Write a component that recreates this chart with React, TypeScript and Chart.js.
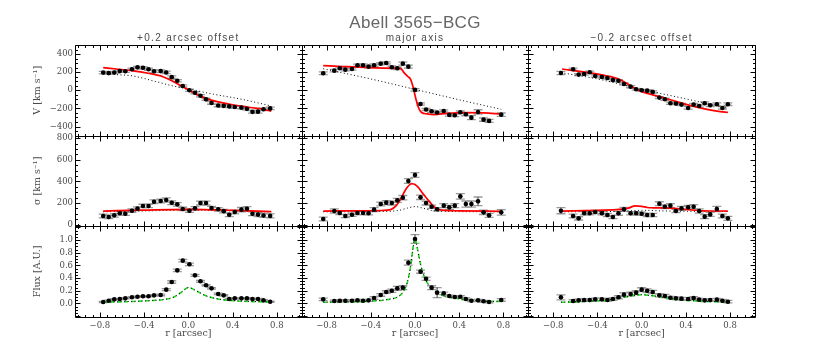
import React, { useEffect, useRef } from 'react';
import { Chart, registerables } from 'chart.js';

Chart.register(...registerables);

const W = 830;
const H = 347;

// ---- text ----
const mainTitle = 'Abell 3565\u2212BCG';
const columnTitles = ['+0.2 arcsec offset', 'major axis', '\u22120.2 arcsec offset'];
const xTitle = 'r [arcsec]';
const velTitle = 'V [km s\u207B\u00B9]';
const sigTitle = '\u03C3 [km s\u207B\u00B9]';
const fluxTitle = 'Flux [A.U.]';

// ---- tick labels ----
const rTicks = [-0.8, -0.4, 0, 0.4, 0.8];
const velTicks = [-400, -200, 0, 200, 400];
const sigTicks = [0, 200, 400, 600, 800];
const fluxTicks = [0, 0.2, 0.4, 0.6, 0.8, 1.0];

// ---- +0.2 arcsec offset ----
const rPlus = [-0.77, -0.72, -0.67, -0.62, -0.57, -0.51, -0.46, -0.41, -0.36, -0.31, -0.25, -0.2, -0.15, -0.1, -0.05, 0.01, 0.06, 0.11, 0.16, 0.21, 0.27, 0.32, 0.37, 0.42, 0.48, 0.53, 0.58, 0.63, 0.68, 0.74];
const velPlus = [195, 190, 197, 212, 210, 232, 253, 248, 232, 210, 212, 197, 145, 105, 48, 0, -28, -60, -100, -140, -168, -172, -178, -185, -192, -205, -238, -236, -210, -200];
const velPlusErr = [14, 12, 12, 12, 12, 12, 12, 14, 12, 14, 14, 14, 14, 12, 12, 12, 12, 12, 12, 14, 14, 14, 14, 14, 14, 14, 14, 16, 14, 14];
const sigPlus = [79, 70, 85, 104, 100, 128, 147, 172, 172, 211, 218, 227, 202, 187, 144, 128, 150, 199, 199, 153, 141, 124, 90, 116, 138, 146, 100, 92, 84, 80];
const sigPlusErr = [18, 16, 16, 16, 16, 16, 16, 16, 16, 18, 18, 20, 18, 16, 16, 16, 16, 18, 18, 16, 16, 16, 16, 18, 20, 20, 18, 18, 18, 18];
const fluxPlus = [0.022, 0.043, 0.064, 0.07, 0.08, 0.096, 0.106, 0.112, 0.112, 0.127, 0.133, 0.217, 0.338, 0.522, 0.675, 0.617, 0.443, 0.349, 0.286, 0.238, 0.149, 0.127, 0.07, 0.08, 0.08, 0.08, 0.07, 0.07, 0.048, 0.027];
const fluxPlusErr = [0.01, 0.01, 0.01, 0.01, 0.01, 0.01, 0.01, 0.01, 0.01, 0.012, 0.012, 0.015, 0.02, 0.02, 0.02, 0.02, 0.015, 0.015, 0.012, 0.012, 0.012, 0.01, 0.01, 0.01, 0.01, 0.01, 0.01, 0.01, 0.01, 0.01];

const rVelModelPlus = [-0.77, -0.65, -0.5, -0.35, -0.23, -0.14, -0.06, 0, 0.08, 0.17, 0.26, 0.4, 0.56, 0.68, 0.75];
const velModelPlus = [250, 235, 215, 185, 150, 100, 45, 5, -50, -95, -125, -160, -190, -210, -230];
const rVelDotPlus = [-0.77, -0.71, -0.5, -0.29, -0.14, 0, 0.23, 0.47, 0.75];
const velDotPlus = [195, 180, 158, 95, 48, 15, -44, -96, -173];
const rSigModelPlus = [-0.77, -0.4, 0, 0.4, 0.75];
const sigModelPlus = [125, 134, 141, 132, 120];
const sigDotPlus = [118, 126, 134, 126, 116];
const rFluxModelPlus = [-0.77, -0.5, -0.3, -0.2, -0.13, -0.06, 0, 0.07, 0.16, 0.28, 0.4, 0.55, 0.75];
const fluxModelPlus = [0.017, 0.03, 0.048, 0.065, 0.1, 0.18, 0.25, 0.2, 0.12, 0.065, 0.043, 0.03, 0.022];
const fluxDotPlus = [0.02, 0.032, 0.05, 0.067, 0.1, 0.18, 0.25, 0.2, 0.12, 0.067, 0.045, 0.032, 0.024];

// ---- major axis ----
const rMajor = [-0.83, -0.73, -0.68, -0.63, -0.57, -0.52, -0.47, -0.42, -0.37, -0.31, -0.26, -0.21, -0.16, -0.11, -0.06, 0.0, 0.05, 0.1, 0.15, 0.2, 0.26, 0.31, 0.36, 0.41, 0.46, 0.51, 0.57, 0.62, 0.67, 0.78];
const velMajor = [188, 217, 243, 228, 235, 276, 276, 261, 276, 294, 302, 254, 243, 294, 261, 4, -151, -213, -232, -246, -228, -272, -276, -243, -265, -302, -239, -324, -338, -269];
const velMajorErr = [16, 14, 12, 14, 12, 12, 14, 12, 14, 12, 12, 14, 14, 16, 16, 14, 12, 12, 12, 12, 12, 14, 14, 14, 16, 22, 24, 18, 16, 18];
const sigMajor = [51, 125, 107, 79, 91, 107, 107, 104, 138, 190, 203, 199, 224, 249, 403, 459, 252, 199, 165, 141, 175, 159, 175, 261, 190, 190, 215, 113, 85, 113];
const sigMajorErr = [18, 20, 15, 15, 15, 15, 15, 15, 18, 18, 18, 18, 18, 20, 22, 22, 20, 18, 15, 15, 18, 18, 18, 25, 28, 28, 40, 20, 18, 25];
const fluxMajor = [0.064, 0.038, 0.043, 0.043, 0.043, 0.048, 0.043, 0.048, 0.085, 0.133, 0.18, 0.2, 0.238, 0.249, 0.643, 1.017, 0.501, 0.39, 0.249, 0.17, 0.159, 0.117, 0.101, 0.106, 0.07, 0.043, 0.048, 0.033, 0.022, 0.054];
const fluxMajorErr = [0.02, 0.015, 0.015, 0.015, 0.015, 0.015, 0.015, 0.015, 0.02, 0.02, 0.02, 0.025, 0.03, 0.03, 0.04, 0.07, 0.025, 0.025, 0.03, 0.08, 0.02, 0.015, 0.015, 0.015, 0.015, 0.015, 0.015, 0.015, 0.015, 0.02];

const rVelModelMajor = [-0.83, -0.65, -0.45, -0.25, -0.13, -0.1, -0.065, -0.04, -0.015, 0.01, 0.04, 0.06, 0.11, 0.17, 0.29, 0.47, 0.62, 0.78];
const velModelMajor = [272, 262, 252, 245, 242, 195, 152, 120, 25, -105, -215, -245, -261, -268, -254, -246, -250, -262];
const rVelDotMajor = [-0.83, -0.4, 0, 0.4, 0.78];
const velDotMajor = [238, 125, 10, -105, -210];
const rSigModelMajor = [-0.83, -0.5, -0.3, -0.22, -0.17, -0.13, -0.1, -0.07, -0.03, 0, 0.03, 0.07, 0.13, 0.19, 0.25, 0.4, 0.78];
const sigModelMajor = [125, 127, 130, 138, 175, 235, 295, 345, 378, 372, 344, 289, 212, 150, 133, 127, 122];
const rSigDotMajor = [-0.83, -0.3, -0.15, -0.07, 0, 0.07, 0.15, 0.3, 0.78];
const sigDotMajor = [118, 121, 130, 152, 166, 152, 130, 121, 118];
const rFluxModelMajor = [-0.83, -0.6, -0.4, -0.25, -0.15, -0.1, -0.07, -0.04, -0.02, 0, 0.02, 0.05, 0.08, 0.12, 0.17, 0.25, 0.35, 0.5, 0.65, 0.78];
const fluxModelMajor = [0.017, 0.022, 0.035, 0.06, 0.11, 0.2, 0.33, 0.58, 0.85, 1.03, 0.88, 0.62, 0.44, 0.3, 0.2, 0.125, 0.085, 0.05, 0.03, 0.03];
const fluxDotMajor = [0.02, 0.025, 0.037, 0.062, 0.11, 0.2, 0.33, 0.58, 0.85, 1.03, 0.88, 0.62, 0.44, 0.3, 0.2, 0.127, 0.087, 0.052, 0.032, 0.032];

// ---- -0.2 arcsec offset ----
const rMinus = [-0.73, -0.62, -0.57, -0.52, -0.47, -0.42, -0.36, -0.31, -0.26, -0.21, -0.16, -0.1, -0.05, 0.0, 0.05, 0.1, 0.16, 0.21, 0.26, 0.31, 0.36, 0.42, 0.47, 0.52, 0.57, 0.62, 0.68, 0.73, 0.78];
const velMinus = [191, 232, 173, 180, 199, 158, 147, 136, 114, 105, 70, 40, 11, 0, -4, -18, -81, -99, -143, -147, -158, -195, -158, -173, -143, -166, -154, -195, -154];
const velMinusErr = [18, 12, 12, 12, 12, 12, 12, 12, 12, 12, 12, 12, 10, 10, 10, 12, 12, 12, 12, 12, 12, 14, 14, 12, 14, 14, 16, 14, 14];
const sigMinus = [128, 79, 57, 104, 104, 116, 104, 88, 70, 104, 141, 104, 104, 100, 88, 88, 193, 165, 175, 125, 150, 159, 165, 125, 73, 94, 144, 79, 57];
const sigMinusErr = [28, 18, 15, 15, 15, 15, 15, 15, 15, 18, 18, 15, 15, 15, 15, 15, 18, 18, 18, 15, 18, 18, 20, 20, 18, 18, 25, 18, 18];
const fluxMinus = [0.096, 0.038, 0.048, 0.054, 0.054, 0.064, 0.064, 0.054, 0.07, 0.096, 0.138, 0.149, 0.17, 0.217, 0.2, 0.18, 0.127, 0.117, 0.09, 0.08, 0.075, 0.07, 0.085, 0.059, 0.048, 0.054, 0.059, 0.043, 0.027];
const fluxMinusErr = [0.04, 0.02, 0.02, 0.02, 0.02, 0.02, 0.02, 0.02, 0.02, 0.025, 0.03, 0.03, 0.03, 0.03, 0.03, 0.025, 0.025, 0.025, 0.02, 0.02, 0.02, 0.02, 0.02, 0.02, 0.02, 0.02, 0.02, 0.02, 0.02];

const rVelModelMinus = [-0.72, -0.5, -0.32, -0.2, -0.14, -0.08, 0, 0.1, 0.26, 0.41, 0.59, 0.71, 0.78];
const velModelMinus = [235, 198, 160, 120, 80, 35, -15, -50, -105, -158, -210, -235, -243];
const rVelDotMinus = [-0.73, -0.4, 0, 0.4, 0.78];
const velDotMinus = [195, 125, 11, -95, -199];
const rSigModelMinus = [-0.73, -0.4, -0.2, -0.12, -0.06, 0, 0.05, 0.1, 0.25, 0.4, 0.55, 0.78];
const sigModelMinus = [125, 132, 140, 152, 172, 168, 158, 155, 152, 140, 127, 125];
const rSigDotMinus = [-0.73, -0.2, 0, 0.2, 0.78];
const sigDotMinus = [118, 122, 132, 126, 120];
const rFluxModelMinus = [-0.73, -0.5, -0.3, -0.15, -0.05, 0, 0.05, 0.15, 0.3, 0.5, 0.78];
const fluxModelMinus = [0.017, 0.03, 0.054, 0.1, 0.13, 0.138, 0.13, 0.11, 0.064, 0.038, 0.017];
const fluxDotMinus = [0.02, 0.032, 0.056, 0.1, 0.13, 0.138, 0.13, 0.11, 0.066, 0.04, 0.02];

// ---- styling ----
const textColor = '#4a4a4a';
const titleColor = '#666';
const tickFont = { family: '"DejaVu Serif", serif', size: 8.5 };
const axisTitleFont = { family: '"DejaVu Serif", serif', size: 9.5 };
const colIds = ['xPlus', 'xMajor', 'xMinus'];
const rowDefs = [
  { id: 'yVel', minor: 50, per: 4 },
  { id: 'ySig', minor: 50, per: 4 },
  { id: 'yFlux', minor: 0.05, per: 4 },
];
const rMinor = 0.4 / 6;

const pts = (xs: number[], ys: number[]) => xs.map((x, i) => ({ x, y: ys[i] }));

const fmt = (dec: number) => (v: any) => {
  const n = Number(v);
  if (dec === 0) return String(Math.round(n)).replace('-', '\u2212');
  return n.toFixed(dec).replace('-', '\u2212');
};

const observed = (xid: string, yid: string, xs: number[], ys: number[], errs: number[]) => ({
  type: 'scatter',
  data: pts(xs, ys),
  errors: errs,
  xAxisID: xid,
  yAxisID: yid,
  showLine: false,
  pointRadius: 2.3,
  pointHoverRadius: 2.3,
  pointBackgroundColor: '#000',
  pointBorderWidth: 0,
  order: 0,
});

const modelLine = (xid: string, yid: string, xs: number[], ys: number[], kind: string) => {
  const base: any = {
    type: 'scatter',
    data: pts(xs, ys),
    xAxisID: xid,
    yAxisID: yid,
    showLine: true,
    pointRadius: 0,
    pointHoverRadius: 0,
    cubicInterpolationMode: 'monotone',
    fill: false,
  };
  if (kind === 'red') return { ...base, borderColor: '#ff0000', borderWidth: 1.7, order: 1 };
  if (kind === 'green') return { ...base, borderColor: '#22dd22', borderWidth: 1.6, borderDash: [4, 3], order: 3 };
  return { ...base, borderColor: '#000', borderWidth: 1, borderDash: [1, 2.5], order: 2 };
};

const errorBarPlugin = {
  id: 'errorBars',
  beforeDatasetsDraw(chart: any) {
    const ctx = chart.ctx;
    ctx.save();
    chart.data.datasets.forEach((ds: any) => {
      if (!ds.errors) return;
      const xs = chart.scales[ds.xAxisID];
      const ys = chart.scales[ds.yAxisID];
      ds.data.forEach((p: any, j: number) => {
        const e = ds.errors[j];
        const px = xs.getPixelForValue(p.x);
        const y1 = ys.getPixelForValue(p.y + e);
        const y2 = ys.getPixelForValue(p.y - e);
        ctx.strokeStyle = '#9a9a9a';
        ctx.lineWidth = 1.3;
        ctx.beginPath();
        ctx.moveTo(px - 4.5, y1); ctx.lineTo(px + 4.5, y1);
        ctx.moveTo(px - 4.5, y2); ctx.lineTo(px + 4.5, y2);
        ctx.stroke();
        ctx.strokeStyle = '#444';
        ctx.lineWidth = 1;
        ctx.beginPath();
        ctx.moveTo(px, y1); ctx.lineTo(px, y2);
        ctx.stroke();
      });
    });
    ctx.restore();
  },
};

const framePlugin = {
  id: 'frames',
  afterDatasetsDraw(chart: any) {
    const ctx = chart.ctx;
    ctx.save();
    ctx.strokeStyle = '#000';
    ctx.lineWidth = 1;
    for (const row of rowDefs) {
      const ys = chart.scales[row.id];
      for (const xid of colIds) {
        const xs = chart.scales[xid];
        const l = Math.round(xs.left) + 0.5;
        const r = Math.round(xs.right) + 0.5;
        const t = Math.round(ys.top) + 0.5;
        const b = Math.round(ys.bottom) + 0.5;
        ctx.beginPath();
        ctx.rect(l, t, r - l, b - t);
        ctx.stroke();
        ctx.beginPath();
        const k0 = Math.ceil(xs.min / rMinor - 1e-6);
        const k1 = Math.floor(xs.max / rMinor + 1e-6);
        for (let k = k0; k <= k1; k++) {
          const px = Math.round(xs.getPixelForValue(k * rMinor)) + 0.5;
          const len = k % 6 === 0 ? 5 : 2.5;
          ctx.moveTo(px, b); ctx.lineTo(px, b - len);
          ctx.moveTo(px, t); ctx.lineTo(px, t + len);
        }
        const j0 = Math.ceil(ys.min / row.minor - 1e-6);
        const j1 = Math.floor(ys.max / row.minor + 1e-6);
        for (let j = j0; j <= j1; j++) {
          const py = Math.round(ys.getPixelForValue(j * row.minor)) + 0.5;
          const len = j % row.per === 0 ? 5 : 2.5;
          ctx.moveTo(l, py); ctx.lineTo(l + len, py);
          ctx.moveTo(r, py); ctx.lineTo(r - len, py);
        }
        ctx.stroke();
      }
    }
    ctx.restore();
  },
  afterDraw(chart: any) {
    const ctx = chart.ctx;
    const top = chart.chartArea.top;
    ctx.save();
    ctx.fillStyle = titleColor;
    ctx.textAlign = 'center';
    ctx.textBaseline = 'alphabetic';
    const mid = chart.scales[colIds[1]];
    ctx.font = '17px "Liberation Sans", Arial, sans-serif';
    try { ctx.letterSpacing = '0.3px'; } catch (e) {}
    ctx.fillText(mainTitle, (mid.left + mid.right) / 2, top - 17.5);
    ctx.fillStyle = textColor;
    ctx.font = '10px "Liberation Sans", Arial, sans-serif';
    try { ctx.letterSpacing = '1.3px'; } catch (e) {}
    colIds.forEach((id, i) => {
      const s = chart.scales[id];
      ctx.fillText(columnTitles[i], (s.left + s.right) / 2, top - 4.5);
    });
    ctx.restore();
  },
};

const yAxis = (range: number[], ticks: number[], dec: number, title: string, weight: number) => ({
  type: 'linear',
  position: 'left',
  stack: 'rows',
  stackWeight: 1,
  weight,
  min: range[0],
  max: range[1],
  afterBuildTicks: (s: any) => { s.ticks = ticks.map((v) => ({ value: v })); },
  afterFit: (s: any) => { s.width = 75; },
  grid: { display: false, drawTicks: false },
  border: { display: false },
  ticks: { font: tickFont, color: textColor, padding: 2, autoSkip: false, callback: fmt(dec) },
  title: { display: true, text: title, font: axisTitleFont, color: textColor, padding: { top: 31.4, bottom: 0 } },
});

const xAxis = (weight: number) => ({
  type: 'linear',
  position: 'bottom',
  stack: 'cols',
  stackWeight: 1,
  weight,
  min: -1.025,
  max: 1.025,
  afterBuildTicks: (s: any) => { s.ticks = rTicks.map((v) => ({ value: v })); },
  afterFit: (s: any) => { s.height = 30.3; },
  grid: { display: false, drawTicks: false },
  border: { display: false },
  ticks: { font: tickFont, color: textColor, padding: 4, maxRotation: 0, autoSkip: false, callback: fmt(1) },
  title: { display: true, text: xTitle, font: axisTitleFont, color: textColor, padding: { top: 0, bottom: 7.4 } },
});

export default function App() {
  const ref = useRef<HTMLCanvasElement | null>(null);

  useEffect(() => {
    if (!ref.current) return;
    const [xP, xM, xN] = colIds;
    const datasets: any[] = [
      observed(xP, 'yVel', rPlus, velPlus, velPlusErr),
      observed(xP, 'ySig', rPlus, sigPlus, sigPlusErr),
      observed(xP, 'yFlux', rPlus, fluxPlus, fluxPlusErr),
      observed(xM, 'yVel', rMajor, velMajor, velMajorErr),
      observed(xM, 'ySig', rMajor, sigMajor, sigMajorErr),
      observed(xM, 'yFlux', rMajor, fluxMajor, fluxMajorErr),
      observed(xN, 'yVel', rMinus, velMinus, velMinusErr),
      observed(xN, 'ySig', rMinus, sigMinus, sigMinusErr),
      observed(xN, 'yFlux', rMinus, fluxMinus, fluxMinusErr),

      modelLine(xP, 'yVel', rVelModelPlus, velModelPlus, 'red'),
      modelLine(xP, 'yVel', rVelDotPlus, velDotPlus, 'dot'),
      modelLine(xP, 'ySig', rSigModelPlus, sigModelPlus, 'red'),
      modelLine(xP, 'ySig', rSigModelPlus, sigDotPlus, 'dot'),
      modelLine(xP, 'yFlux', rFluxModelPlus, fluxModelPlus, 'green'),
      modelLine(xP, 'yFlux', rFluxModelPlus, fluxDotPlus, 'dot'),

      modelLine(xM, 'yVel', rVelModelMajor, velModelMajor, 'red'),
      modelLine(xM, 'yVel', rVelDotMajor, velDotMajor, 'dot'),
      modelLine(xM, 'ySig', rSigModelMajor, sigModelMajor, 'red'),
      modelLine(xM, 'ySig', rSigDotMajor, sigDotMajor, 'dot'),
      modelLine(xM, 'yFlux', rFluxModelMajor, fluxModelMajor, 'green'),
      modelLine(xM, 'yFlux', rFluxModelMajor, fluxDotMajor, 'dot'),

      modelLine(xN, 'yVel', rVelModelMinus, velModelMinus, 'red'),
      modelLine(xN, 'yVel', rVelDotMinus, velDotMinus, 'dot'),
      modelLine(xN, 'ySig', rSigModelMinus, sigModelMinus, 'red'),
      modelLine(xN, 'ySig', rSigDotMinus, sigDotMinus, 'dot'),
      modelLine(xN, 'yFlux', rFluxModelMinus, fluxModelMinus, 'green'),
      modelLine(xN, 'yFlux', rFluxModelMinus, fluxDotMinus, 'dot'),
    ];

    const chart = new Chart(ref.current, {
      type: 'scatter',
      data: { datasets },
      options: {
        responsive: false,
        animation: false,
        devicePixelRatio: 1,
        layout: { padding: { left: 0, right: 75, top: 45, bottom: 0 } },
        plugins: { legend: { display: false }, tooltip: { enabled: false }, title: { display: false } },
        events: [],
        scales: {
          yVel: yAxis([-500, 500], velTicks, 0, velTitle, 3),
          ySig: yAxis([-15, 825], sigTicks, 0, sigTitle, 2),
          yFlux: yAxis([-0.21, 1.22], fluxTicks, 1, fluxTitle, 1),
          xPlus: xAxis(1),
          xMajor: xAxis(2),
          xMinus: xAxis(3),
        },
      } as any,
      plugins: [errorBarPlugin, framePlugin],
    } as any);
    return () => chart.destroy();
  }, []);

  return (
    <div style={{ position: 'absolute', left: 0, top: 0, width: W, height: H, background: '#fff' }}>
      <canvas ref={ref} width={W} height={H} style={{ width: W, height: H, display: 'block' }} />
    </div>
  );
}
